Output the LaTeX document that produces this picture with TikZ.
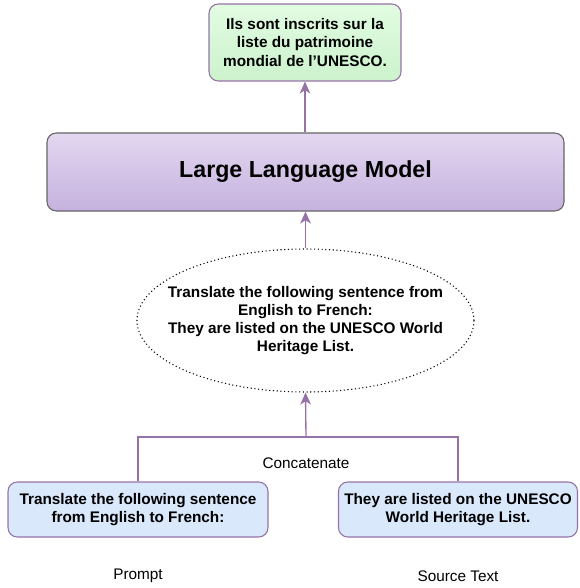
\documentclass[tikz,border=0pt]{standalone}
\usepackage{fontspec}
\setmainfont{Liberation Sans}
\usetikzlibrary{shapes.geometric,arrows.meta}

\definecolor{borde}{HTML}{9673A6}
\definecolor{gris}{HTML}{666666}
\definecolor{verdearriba}{HTML}{E2FCE2}
\definecolor{verdeabajo}{HTML}{CCF2CC}
\definecolor{moradoarriba}{HTML}{E3D7F0}
\definecolor{moradoabajo}{HTML}{C5B2DE}
\definecolor{azul}{HTML}{DAE8FC}

\begin{document}
\begin{tikzpicture}[x=0.75pt, y=-0.75pt,
    texto/.style={font=\fontsize{11.5}{13.7}\selectfont},
    negrita/.style={font=\bfseries\fontsize{11.5}{13.7}\selectfont, align=center},
    caja/.style={negrita, rectangle, rounded corners=7pt, line width=0.8pt, inner sep=0pt},
    flecha/.style={draw=borde, line width=1pt, -{Stealth[length=9pt, width=8pt, inset=2.5pt]}},
    linea/.style={draw=borde, line width=1pt}]

    % Fijamos el marco
    \useasboundingbox (0,0) rectangle (579,588);

    % Cajas
    \node[caja, draw=borde, top color=verdearriba, bottom color=verdeabajo,
          minimum width=192*0.75pt, minimum height=77*0.75pt] (salida) at (305,42.5)
        {Ils sont inscrits sur la\\liste du patrimoine\\mondial de l'UNESCO.};
    \node[caja, draw=gris, top color=moradoarriba, bottom color=moradoabajo,
          font=\bfseries\fontsize{17.4}{20}\selectfont,
          minimum width=517*0.75pt, minimum height=78*0.75pt] (llm) at (305.5,172)
        {Large Language Model};
    \node[negrita, ellipse, draw, dotted, line width=0.8pt, inner xsep=-16pt, inner ysep=0pt,
          minimum width=337*0.75pt, minimum height=143*0.75pt] (entrada) at (305.5,320.5)
        {Translate the following sentence from\\English to French:\\They are listed on the UNESCO World\\Heritage List.};
    \node[caja, draw=borde, fill=azul,
          minimum width=260*0.75pt, minimum height=55*0.75pt] (prompt) at (138,509.5)
        {Translate the following sentence\\from English to French:};
    \node[caja, draw=borde, fill=azul,
          minimum width=239*0.75pt, minimum height=55*0.75pt] (fuente) at (458,509.5)
        {They are listed on the UNESCO\\World Heritage List.};

    % Etiquetas
    \node[texto] (concat) at (306,463) {Concatenate};
    \node[texto] (lprompt) at (138,576) {Prompt};
    \node[texto] (lfuente) at (458,576) {Source Text};

    % Conexiones
    \coordinate (union) at (306,437);
    \draw[linea] (prompt.north) |- (union) -| (fuente.north);
    \draw[flecha] (union) -- (entrada.south);
    \draw[flecha] (entrada.north) -- (llm.south);
    \draw[flecha] (llm.north -| salida.south) -- (salida.south);

\end{tikzpicture}
\end{document}
